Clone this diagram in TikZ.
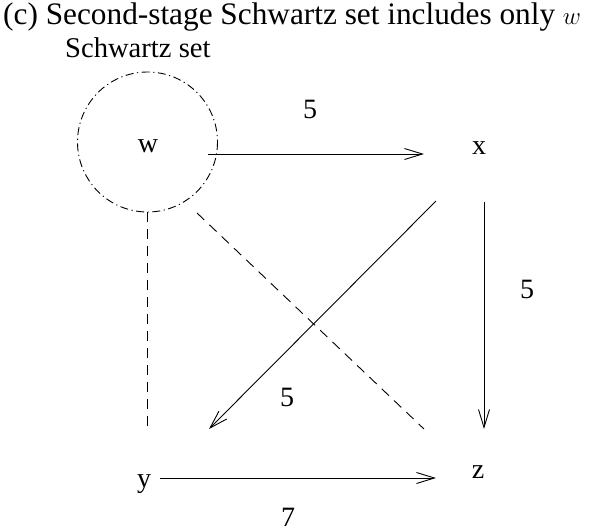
\documentclass[tikz,border=0pt]{standalone}
\usepackage{fontspec}
\setmainfont{Liberation Serif}
\usetikzlibrary{arrows.meta}
\begin{document}
\begin{tikzpicture}[x=1pt,y=-1pt,
  lbl/.style={inner sep=0pt,anchor=base,font=\fontsize{28}{30}\selectfont},
  arr/.style={line width=0.9pt,-{Straight Barb[length=18pt,width=11pt,line width=0.9pt]}},
  dsh/.style={line width=0.9pt,dash pattern=on 10pt off 7pt},
  ring/.style={line width=0.9pt,dash pattern=on 8pt off 3.5pt on 1.2pt off 3.5pt}]
\useasboundingbox (0,0) rectangle (595,531);
\node[inner sep=0pt,anchor=base west,font=\fontsize{31.3}{34}\selectfont] (title) at (3,24.5) {(c) Second-stage Schwartz set includes only $w$};
\node[inner sep=0pt,anchor=base west,font=\fontsize{28.6}{30}\selectfont] (sset) at (65,57) {Schwartz set};
\draw[ring] (147.5,142) circle[radius=70];
\node[lbl] (w) at (148,152) {w};
\node[lbl] (x) at (479,154) {x};
\node[lbl] (y) at (144,487) {y};
\node[lbl] (z) at (478,478) {z};
\node[lbl] (l1) at (310,118) {5};
\node[lbl] (l2) at (527,298) {5};
\node[lbl] (l3) at (287,406) {5};
\node[lbl] (l4) at (288,526) {7};
\coordinate (wE) at (208,154);
\coordinate (xW) at (424,154);
\coordinate (xS) at (484,202);
\coordinate (zN) at (484,429);
\coordinate (xSW) at (436,201);
\coordinate (yNE) at (209,429);
\coordinate (yE) at (160,478);
\coordinate (zW) at (436,478);
\coordinate (wS) at (147.5,212);
\coordinate (yN) at (147.5,430);
\coordinate (wSE) at (197,213);
\coordinate (zNW) at (424,429);
\draw[arr] (wE) -- (xW);
\draw[arr] (xS) -- (zN);
\draw[arr] (xSW) -- (yNE);
\draw[arr] (yE) -- (zW);
\draw[dsh] (wS) -- (yN);
\draw[dsh] (wSE) -- (zNW);
\end{tikzpicture}
\end{document}
